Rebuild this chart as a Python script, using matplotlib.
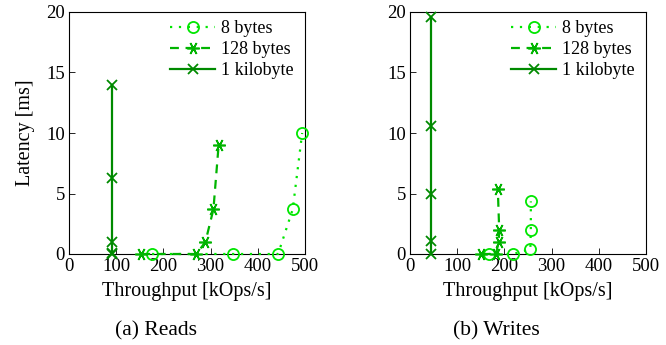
import matplotlib
matplotlib.use("Agg")
import matplotlib.pyplot as plt

plt.rcParams['font.family'] = ['Liberation Serif', 'DejaVu Serif']
plt.rcParams['mathtext.fontset'] = 'dejavuserif'

# Reads
reads_8_x = [176, 348, 443, 474, 494]
reads_8_y = [0.0, 0.0, 0.0, 3.7, 10.0]
reads_128_x = [153, 270, 289, 306, 317]
reads_128_y = [0.0, 0.0, 1.0, 3.7, 9.0]
reads_1k_x = [92, 92, 92, 92, 92]
reads_1k_y = [0.0, 0.1, 1.0, 6.3, 14.0]

# Writes
writes_8_x = [167, 218, 255, 256, 256]
writes_8_y = [0.0, 0.0, 0.4, 2.0, 4.35]
writes_128_x = [151, 182, 188, 189, 186]
writes_128_y = [0.0, 0.0, 1.0, 2.0, 5.4]
writes_1k_x = [45, 45, 45, 45, 45]
writes_1k_y = [0.0, 1.1, 5.0, 10.6, 19.6]

labels = ["8 bytes", "128 bytes", "1 kilobyte"]
xticks = [0, 100, 200, 300, 400, 500]
yticks = [0, 5, 10, 15, 20]
captions = ["(a) Reads", "(b) Writes"]

c8 = "#00e600"
c128 = "#00b400"
c1k = "#008a00"
asterisk = (6, 2, 90)

fig = plt.figure(figsize=(6.66, 3.45), dpi=100)
ax1 = fig.add_axes([69/666, 91/345, 236/666, 242/345])
ax2 = fig.add_axes([410/666, 91/345, 236/666, 242/345])

datasets = [
    (ax1, (reads_8_x, reads_8_y), (reads_128_x, reads_128_y), (reads_1k_x, reads_1k_y)),
    (ax2, (writes_8_x, writes_8_y), (writes_128_x, writes_128_y), (writes_1k_x, writes_1k_y)),
]

for i, (ax, d8, d128, d1k) in enumerate(datasets):
    ax.plot(d8[0], d8[1], linestyle=(0, (1, 3)), linewidth=1.6, color=c8,
            marker='o', markersize=8, markerfacecolor='none', markeredgewidth=1.3,
            label=labels[0], clip_on=False, zorder=3)
    ax.plot(d128[0], d128[1], linestyle=(0, (4, 3)), linewidth=1.6, color=c128,
            marker=asterisk, markersize=9, markeredgewidth=1.2,
            label=labels[1], clip_on=False, zorder=3)
    ax.plot(d1k[0], d1k[1], linestyle='-', linewidth=1.6, color=c1k,
            marker='x', markersize=7, markeredgewidth=1.3,
            label=labels[2], clip_on=False, zorder=3)
    ax.set_xlim(0, 500)
    ax.set_ylim(0, 20)
    ax.set_xticks(xticks)
    ax.set_yticks(yticks)
    ax.tick_params(direction='in', length=4, labelsize=13.5, width=0.6, pad=3)
    for s in ax.spines.values():
        s.set_linewidth(0.8)
    ax.set_xlabel("Throughput [kOps/s]", fontsize=14.5, labelpad=5)
    if i == 0:
        ax.set_ylabel("Latency [ms]", fontsize=14.5, labelpad=8)
    ax.legend(loc='upper right', bbox_to_anchor=((294 - 69) / 236, (254 - 20) / 242),
              fontsize=13, frameon=False,
              handlelength=2.5, handletextpad=0.33, labelspacing=0.23,
              borderaxespad=0, borderpad=0)

fig.text(156/666, 1 - 331/345, captions[0], ha='center', va='center', fontsize=15.5)
fig.text(496/666, 1 - 331/345, captions[1], ha='center', va='center', fontsize=15.5)

fig.savefig("out.png", dpi=100)
